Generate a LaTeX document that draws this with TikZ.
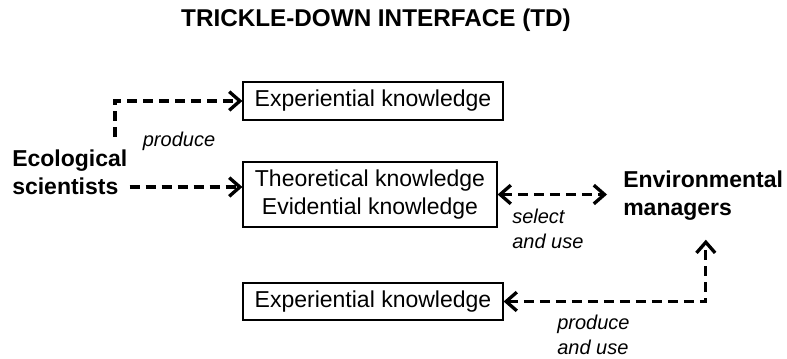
\documentclass[tikz,border=0pt]{standalone}
\usepackage{fontspec}
\setmainfont{Liberation Sans}
\usetikzlibrary{arrows.meta}

\begin{document}
\begin{tikzpicture}[x=0.75pt,y=-0.75pt]
		\tikzstyle {kbox} = [draw, line width=0.9pt, inner sep=0pt, minimum width=195pt, font=\fontsize{17.25}{21}\selectfont]
		\tikzstyle {actor} = [inner sep=0pt, align=left, font=\fontsize{17.25}{21}\selectfont\bfseries]
		\tikzstyle {verb} = [inner sep=0pt, align=left, font=\fontsize{15}{18.75}\selectfont\itshape]
		\tikzstyle {flow} = [line width=2.5pt, dash pattern=on 7.5pt off 4.5pt, -{Straight Barb[length=8pt,width=14pt]}]
		\tikzstyle {both} = [flow, {Straight Barb[length=8pt,width=14pt]}-{Straight Barb[length=8pt,width=14pt]}]

		\useasboundingbox (0,0) rectangle (787,359);

		\node[actor, font=\fontsize{18.2}{22}\selectfont\bfseries] (title) at (376,20) {TRICKLE-DOWN INTERFACE (TD)};

		\node[actor, anchor=west] (sci) at (12,172) {Ecological\\scientists};
		\node[actor, anchor=west] (mgr) at (623,196) {Environmental\\managers};

		\node[kbox, minimum height=28.5pt] (exp1) at (373,101) {Experiential knowledge};
		\node[kbox, minimum width=190.5pt, minimum height=48.75pt, align=center] (theo) at (370,194.5) {Theoretical knowledge\\Evidential knowledge};
		\node[kbox, minimum height=27.75pt] (exp2) at (373,301.5) {Experiential knowledge};

		\node[verb] (prod1) at (179,141) {produce};
		\node[verb, anchor=west] (select) at (512,229) {select\\and use};
		\node[verb, anchor=west] (prod2) at (557,335) {produce\\and use};

		\coordinate (up) at (115,137);
		\draw[flow] (up) |- (exp1.west);

		\coordinate (sciout) at ([xshift=1.5pt,yshift=-11.25pt]sci.east);
		\draw[flow] (sciout) -- (sciout -| theo.west);

		\coordinate (mgrin) at ([xshift=-12pt]mgr.west);
		\draw[both] (theo.east) -- (theo.east -| mgrin);

		\coordinate (mgrout) at ([xshift=2pt,yshift=-14pt]mgr.south);
		\draw[both] (exp2.east) -| (mgrout);
\end{tikzpicture}
\end{document}
